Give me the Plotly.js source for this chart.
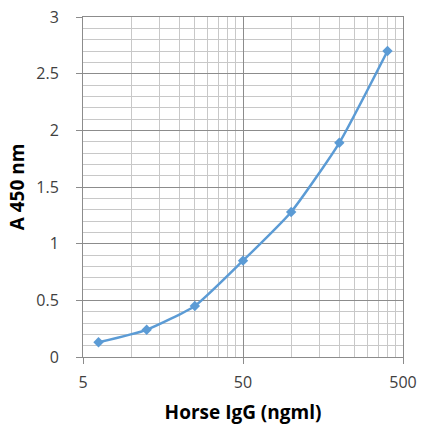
<!DOCTYPE html>
<html>
<head>
<meta charset="utf-8">
<script src="https://cdn.plot.ly/plotly-3.0.1.min.js"></script>
<style>html,body{margin:0;padding:0;background:#fff;}#chart{width:422px;height:425px;}</style>
</head>
<body>
<div id="chart"></div>
<script>
var concentration = [6.25, 12.5, 25, 50, 100, 200, 400];
var absorbance = [0.13, 0.24, 0.45, 0.85, 1.28, 1.89, 2.70];
var xTickVals = [5, 50, 500];
var xTickText = ['5', '50', '500'];
var xMinorVals = [10,15,20,25,30,35,40,45,100,150,200,250,300,350,400,450];
var yTickVals = [0, 0.5, 1, 1.5, 2, 2.5, 3];
var yTickText = ['0', '0.5', '1', '1.5', '2', '2.5', '3'];

var fam = '"Open Sans", "Liberation Sans", sans-serif';
var trace = {
  x: concentration, y: absorbance, type: 'scatter', mode: 'lines+markers',
  line: {color: '#5B9BD5', width: 2.5, shape: 'spline', smoothing: 0.5},
  marker: {symbol: 'diamond', size: 8, color: '#5B9BD5'},
  showlegend: false, hoverinfo: 'x+y'
};
var layout = {
  width: 422, height: 425,
  margin: {l: 83, r: 19, t: 17, b: 68},
  paper_bgcolor: '#ffffff', plot_bgcolor: '#ffffff',
  font: {family: fam, size: 14, color: '#404040'},
  xaxis: {
    type: 'log', range: [Math.log10(5), Math.log10(500)],
    tickmode: 'array', tickvals: xTickVals, ticktext: xTickText,
    showgrid: true, gridcolor: '#8c8c8c', gridwidth: 1,
    minor: {tickmode: 'array', tickvals: xMinorVals, showgrid: true, gridcolor: '#c8c8c8', gridwidth: 1, ticks: ''},
    showline: true, linecolor: '#8c8c8c', linewidth: 1, mirror: true,
    ticks: 'outside', ticklen: 6, tickcolor: '#8c8c8c',
    ticklabelstandoff: 5,
    tickfont: {family: fam, size: 16, color: '#404040'},
    zeroline: false,
    title: {text: 'Horse IgG (ngml)', standoff: 16, font: {family: fam, size: 19, color: '#000000', weight: 'bold'}}
  },
  yaxis: {
    range: [0, 3],
    tickmode: 'array', tickvals: yTickVals, ticktext: yTickText,
    showgrid: true, gridcolor: '#8c8c8c', gridwidth: 1,
    minor: {dtick: 0.1, showgrid: true, gridcolor: '#c8c8c8', gridwidth: 1, ticks: ''},
    showline: true, linecolor: '#8c8c8c', linewidth: 1, mirror: true,
    ticks: 'outside', ticklen: 6, tickcolor: '#8c8c8c',
    ticklabelstandoff: 14,
    tickfont: {family: fam, size: 16, color: '#404040'},
    zeroline: false,
    title: {text: 'A 450 nm', standoff: 6, font: {family: fam, size: 19, color: '#000000', weight: 'bold'}}
  }
};
Plotly.newPlot('chart', [trace], layout, {displayModeBar: false, staticPlot: true});
</script>
</body>
</html>
